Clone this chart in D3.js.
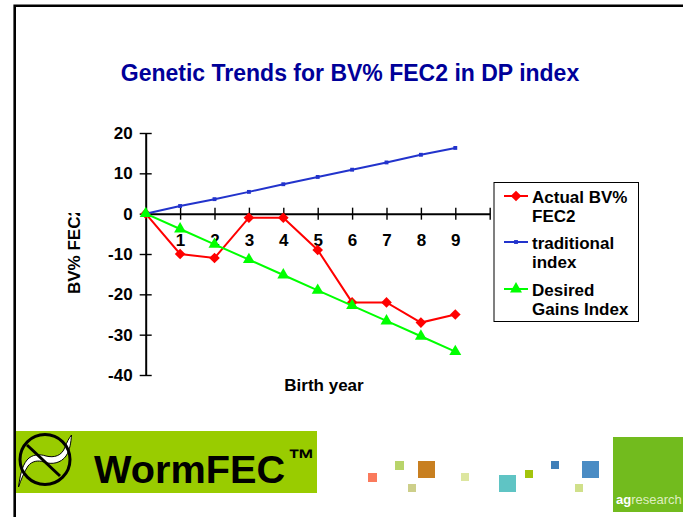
<!DOCTYPE html>
<html>
<head>
<meta charset="utf-8">
<title>Genetic Trends</title>
<script src="https://cdn.jsdelivr.net/npm/d3@7"></script>
<style>
  html, body { margin: 0; padding: 0; background: #fff; overflow: hidden; }
  svg { display: block; }
  text { font-family: "Liberation Sans", Arial, sans-serif; font-weight: bold; fill: #000; }
</style>
</head>
<body>
<div class="chart"></div>
<script>
// chart values
var years = [0, 1, 2, 3, 4, 5, 6, 7, 8, 9];
var actualValues = [0, -10, -11, -1, -1, -9, -22, -22, -27, -25];
var traditionalValues = [0, 1.9, 3.6, 5.4, 7.3, 9.1, 10.9, 12.7, 14.6, 16.3];
var desiredValues = [0, -3.8, -7.6, -11.4, -15.2, -19, -22.8, -26.6, -30.4, -34.2];
var yTicks = [20, 10, 0, -10, -20, -30, -40];
var xTicks = [0, 1, 2, 3, 4, 5, 6, 7, 8, 9, 10];
var seriesNames = [["Actual BV%", "FEC2"], ["traditional", "index"], ["Desired", "Gains Index"]];

var svgWidth = 683;
var svgHeight = 517;
var chartMargin = { top: 133, left: 145.7 };
var chartWidth = 344;
var chartHeight = 242;

var svg = d3.select(".chart")
    .append("svg")
    .attr("width", svgWidth)
    .attr("height", svgHeight);

// slide frame, only the top and left edges show
svg.append("path")
    .attr("d", "M14.7,517V5.8H683")
    .attr("fill", "none")
    .attr("stroke", "#000")
    .attr("stroke-width", 2.6);

svg.append("text")
    .attr("x", 350)
    .attr("y", 81)
    .attr("text-anchor", "middle")
    .attr("font-size", "23px")
    .style("fill", "#000099")
    .text("Genetic Trends for BV% FEC2 in DP index");

var chart = svg.append("g")
    .attr("transform", "translate(" + chartMargin.left + ", " + chartMargin.top + ")");

var xScale = d3.scaleLinear().domain([0, 10]).range([0, chartWidth]);
var yScale = d3.scaleLinear().domain([-40, 20]).range([chartHeight, 0]);

// plain hyphen on the negatives, as in the original
var leftAxis = d3.axisLeft(yScale).tickValues(yTicks).tickSize(6).tickSizeOuter(0).tickPadding(7)
    .tickFormat(function(d) { return String(d); });
var bottomAxis = d3.axisBottom(xScale).tickValues(xTicks).tickSize(6).tickSizeOuter(0).tickPadding(14)
    .tickFormat(function(d) { return d == 0 || d == 10 ? "" : d; });

var yAxisG = chart.append("g").call(leftAxis);
var xAxisG = chart.append("g").attr("transform", "translate(0, " + yScale(0) + ")").call(bottomAxis);

// ticks cross the axis on both sides
yAxisG.selectAll(".tick line").attr("x1", -6).attr("x2", 6);
xAxisG.selectAll(".tick line").attr("y1", -6).attr("y2", 6);
[yAxisG, xAxisG].forEach(function(g) {
    g.selectAll(".domain").attr("stroke", "#000").attr("stroke-width", 2);
    g.selectAll(".tick line").attr("stroke", "#000").attr("stroke-width", 1.4);
    g.selectAll("text")
        .attr("font-size", "17px")
        .attr("font-family", "Liberation Sans")
        .attr("font-weight", "bold")
        .attr("fill", "#000");
});

var series = [
    { values: actualValues, color: "#ff0000", symbol: d3.symbolDiamond2, size: 72 },
    { values: traditionalValues, color: "#2233cc", symbol: d3.symbolSquare, size: 15 },
    { values: desiredValues, color: "#00ff00", symbol: d3.symbolTriangle, size: 62 }
];

var line = d3.line()
    .x(function(d, i) { return xScale(years[i]); })
    .y(function(d) { return yScale(d); });

series.forEach(function(s) {
    chart.append("path")
        .datum(s.values)
        .attr("d", line)
        .attr("fill", "none")
        .attr("stroke", s.color)
        .attr("stroke-width", 2);
    chart.selectAll(null)
        .data(s.values)
        .enter()
        .append("path")
        .attr("d", d3.symbol().type(s.symbol).size(s.size))
        .attr("transform", function(d, i) {
            return "translate(" + xScale(years[i]) + ", " + yScale(d) + ")";
        })
        .attr("fill", s.color);
});

// axis titles
svg.append("clipPath").attr("id", "ylabelClip")
    .append("rect").attr("x", 60).attr("y", 213).attr("width", 30).attr("height", 90);
svg.append("g").attr("clip-path", "url(#ylabelClip)")
    .append("text")
    .attr("transform", "translate(80, 294) rotate(-90)")
    .attr("font-size", "17px")
    .text("BV% FEC2");

svg.append("text")
    .attr("x", 324)
    .attr("y", 391)
    .attr("text-anchor", "middle")
    .attr("font-size", "17px")
    .text("Birth year");

// legend
svg.append("rect")
    .attr("x", 494)
    .attr("y", 182.5)
    .attr("width", 144.5)
    .attr("height", 139)
    .attr("fill", "#fff")
    .attr("stroke", "#000")
    .attr("stroke-width", 1);

var legendY = [196, 242, 289];
var legend = svg.selectAll(".legendItem")
    .data(series)
    .enter()
    .append("g")
    .attr("class", "legendItem")
    .attr("transform", function(d, i) { return "translate(0, " + legendY[i] + ")"; });

legend.append("line")
    .attr("x1", 504)
    .attr("x2", 528)
    .attr("stroke", function(d) { return d.color; })
    .attr("stroke-width", 2);
legend.append("path")
    .attr("transform", "translate(516, 0)")
    .attr("d", function(d) { return d3.symbol().type(d.symbol).size(d.size)(); })
    .attr("fill", function(d) { return d.color; });
legend.each(function(d, i) {
    d3.select(this).selectAll("text")
        .data(seriesNames[i])
        .enter()
        .append("text")
        .attr("x", 532)
        .attr("y", function(t, j) { return 7 + j * 19; })
        .attr("font-size", "17px")
        .text(function(t) { return t; });
});

// WormFEC logo
var logo = svg.append("g");
logo.append("rect")
    .attr("x", 16)
    .attr("y", 431)
    .attr("width", 301)
    .attr("height", 62)
    .attr("fill", "#99cc00");
logo.append("path")
    .attr("d", "M18.5,487C20,476 22,466 27,460C32,454 40,454 46,456C54,458 62,456 65,447C67,442 69,438 71.5,435C71,442 70,450 66,456C61,463 52,465 44,462C38,460 32,461 28,466C24,472 21,480 18.5,487Z")
    .attr("fill", "#fff")
    .attr("stroke", "#000")
    .attr("stroke-width", 1);
logo.append("circle")
    .attr("cx", 45)
    .attr("cy", 459.5)
    .attr("r", 25)
    .attr("fill", "none")
    .attr("stroke", "#000")
    .attr("stroke-width", 3);
logo.append("line")
    .attr("x1", 27)
    .attr("y1", 445)
    .attr("x2", 60)
    .attr("y2", 476)
    .attr("stroke", "#000")
    .attr("stroke-width", 3);
logo.append("text")
    .attr("x", 94)
    .attr("y", 483)
    .attr("font-size", "39.7px")
    .text("WormFEC");
logo.append("text")
    .attr("x", 288)
    .attr("y", 468)
    .attr("font-size", "27px")
    .text("™");

// agresearch logo squares
var logoSquares = [
    [368, 473, 9, "#fa7a5c"], [395, 461, 9, "#b8d46a"], [418, 461, 17, "#c87f20"],
    [408, 484, 8, "#cdcf8a"], [461, 473, 8, "#dde6a0"], [499, 475, 17, "#5fc4c4"],
    [525, 470, 8, "#a3c40c"], [551, 461, 8, "#3f7fb8"], [582, 461, 17, "#4a8cc4"],
    [575, 484, 8, "#d0e08a"]
];
svg.selectAll(".logoSquare")
    .data(logoSquares)
    .enter()
    .append("rect")
    .attr("class", "logoSquare")
    .attr("x", function(d) { return d[0]; })
    .attr("y", function(d) { return d[1]; })
    .attr("width", function(d) { return d[2]; })
    .attr("height", function(d) { return d[2]; })
    .attr("fill", function(d) { return d[3]; });

svg.append("rect")
    .attr("x", 613)
    .attr("y", 437)
    .attr("width", 70)
    .attr("height", 75)
    .attr("fill", "#72bb1e");
var agText = svg.append("text")
    .attr("x", 616)
    .attr("y", 504)
    .attr("font-size", "13px")
    .style("fill", "#fff");
agText.append("tspan").text("ag");
agText.append("tspan").style("font-weight", "normal").style("fill", "#dfeec0").text("research");
</script>
</body>
</html>
